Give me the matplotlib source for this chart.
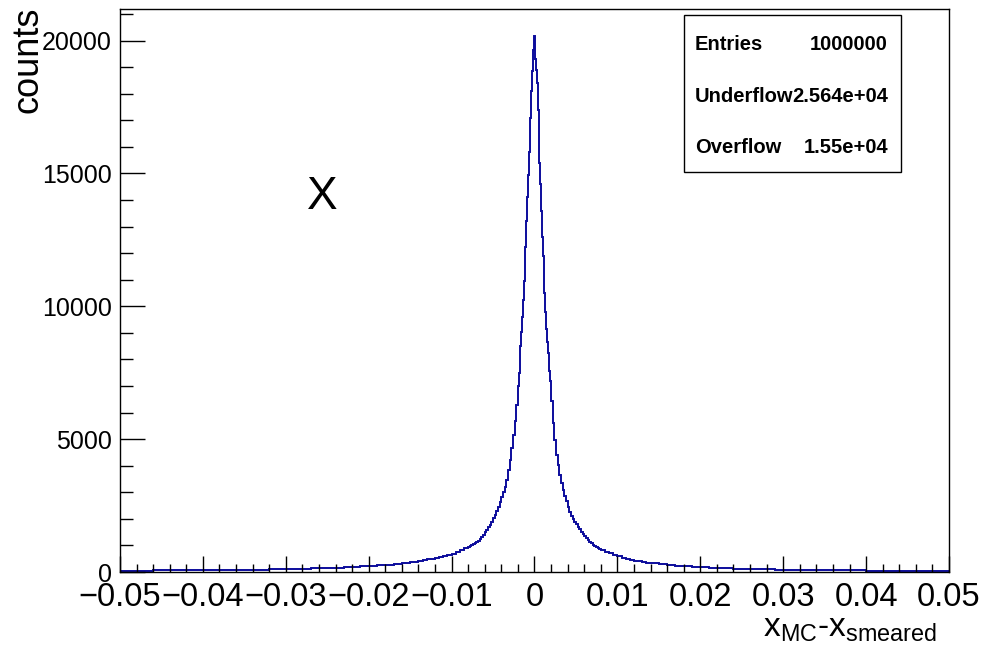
#!/usr/bin/env python3
"""
x_MC - x_smeared resolution histogram (ROOT style)
"""

import numpy as np
import matplotlib

matplotlib.use("Agg")
import matplotlib.pyplot as plt
from matplotlib.patches import Rectangle
from matplotlib.ticker import MultipleLocator, FuncFormatter

plt.rcParams["font.family"] = ["Liberation Sans", "DejaVu Sans"]
plt.rcParams["mathtext.fontset"] = "custom"
plt.rcParams["mathtext.rm"] = "Liberation Sans"
plt.rcParams["mathtext.it"] = "Liberation Sans:italic"

# bin segments (start, stop, number of bins) -- finer bins near the peak
segmentos = [
    (-0.050, -0.014, 36),
    (-0.014, -0.008, 12),
    (-0.008, -0.002, 30),
    (-0.002, 0.002, 40),
    (0.002, 0.008, 30),
    (0.008, 0.014, 12),
    (0.014, 0.050, 36),
]

# counts per bin
cauda_esq = [52, 53, 55, 56, 58, 60, 61, 63, 65, 67, 70, 72, 75, 78, 82, 85,
             89, 94, 99, 104, 110, 117, 125, 133, 142, 152, 164, 177, 192,
             209, 229, 252, 279, 310, 346, 389]
meio_esq = [425, 450, 478, 508, 540, 565, 600, 645, 695, 750, 815, 885]
interno_esq = [940, 970, 1005, 1040, 1075, 1120, 1170, 1240, 1320, 1400,
               1490, 1580, 1680, 1780, 1900, 2040, 2160, 2300, 2450, 2620,
               2820, 3000, 3200, 3450, 3830, 4200, 4650, 5150, 5700, 6300]
centro = [7000, 7500, 8000, 8500, 9050, 9600, 10250, 10950, 11600, 12250,
          13200, 14100, 14950, 15800, 16400, 17100, 18100, 18850, 19650,
          20180, 20050, 19300, 18900, 18400, 17400, 16400, 15400, 14600,
          13600, 12600, 11900, 11200, 10500, 9800, 9150, 8650, 8250, 7900,
          7550, 7200]
interno_dir = [6450, 5600, 4950, 4420, 4030, 3650, 3350, 3080, 2870, 2660,
               2450, 2270, 2120, 1990, 1880, 1800, 1700, 1610, 1520, 1430,
               1350, 1280, 1210, 1140, 1080, 1030, 985, 945, 905, 875]
meio_dir = [830, 760, 700, 640, 585, 535, 495, 458, 428, 400, 375, 355]
cauda_dir = [335, 298, 265, 238, 214, 194, 177, 162, 149, 138, 128, 119,
             111, 104, 98, 92, 87, 82, 78, 74, 71, 68, 65, 62, 60, 57, 55,
             53, 51, 49, 47, 46, 44, 43, 41, 40]

estatisticas = [("Entries", "1000000"),
                ("Underflow", "2.564e+04"),
                ("Overflow", "1.55e+04")]


def gerar_grafico():
    bordas = [segmentos[0][0]]
    for ini, fim, n in segmentos:
        bordas.extend(np.linspace(ini, fim, n + 1)[1:])
    bordas = np.array(bordas)
    contagens = np.array(cauda_esq + meio_esq + interno_esq + centro
                         + interno_dir + meio_dir + cauda_dir, dtype=float)

    W, H = 986, 650
    fig = plt.figure(figsize=(W / 100, H / 100), dpi=100)
    ax = fig.add_axes([120 / W, 1 - 572 / H, 829 / W, 563 / H])

    ax.stairs(contagens, bordas, color="#0c0c9c", linewidth=1.4)

    ax.set_xlim(-0.05, 0.05)
    ax.set_ylim(0, 1.05 * contagens.max())

    ax.xaxis.set_major_locator(MultipleLocator(0.01))
    ax.xaxis.set_minor_locator(MultipleLocator(0.002))
    ax.yaxis.set_major_locator(MultipleLocator(5000))
    ax.yaxis.set_minor_locator(MultipleLocator(1000))

    def fmt_x(v, pos):
        if abs(v) < 1e-9:
            return "0"
        return f"{v:.2f}".replace("-", "\u2212")

    ax.xaxis.set_major_formatter(FuncFormatter(fmt_x))
    ax.yaxis.set_major_formatter(FuncFormatter(lambda v, p: f"{v:.0f}"))

    ax.tick_params(axis="both", which="both", direction="in",
                   top=False, right=False, color="black", width=1)
    ax.tick_params(axis="x", which="major", length=11.5, labelsize=23.5, pad=7)
    ax.tick_params(axis="x", which="minor", length=5.8)
    ax.tick_params(axis="y", which="major", length=18, labelsize=18, pad=6)
    ax.tick_params(axis="y", which="minor", length=9)
    for s in ax.spines.values():
        s.set_linewidth(1)
        s.set_color("black")

    # axis titles
    fig.text(28 / W, 1 - 7 / H, "counts", rotation=90, ha="center",
             va="top", fontsize=26)
    fig.text(937 / W, 1 - 637 / H, r"x$_{\mathrm{MC}}$-x$_{\mathrm{smeared}}$",
             ha="right", va="baseline", fontsize=24)

    # big label
    ax.text(322 / W, 1 - 197 / H, "X", transform=fig.transFigure,
            ha="center", va="center", fontsize=33)

    # stats box
    caixa = Rectangle((684 / W, 1 - 172 / H), 217 / W, 157 / H,
                      transform=fig.transFigure, facecolor="white",
                      edgecolor="black", linewidth=1, zorder=5)
    fig.patches.append(caixa)
    for i, (nome, valor) in enumerate(estatisticas):
        yb = 1 - (50 + 51.5 * i) / H
        fig.text(695 / W, yb, nome, ha="left", va="baseline",
                 fontsize=14.5, fontweight="bold", zorder=6)
        fig.text(888 / W, yb, valor, ha="right", va="baseline",
                 fontsize=14.5, fontweight="bold", zorder=6)

    fig.savefig("out.png", dpi=100)
    print("ok: out.png")


if __name__ == "__main__":
    gerar_grafico()
